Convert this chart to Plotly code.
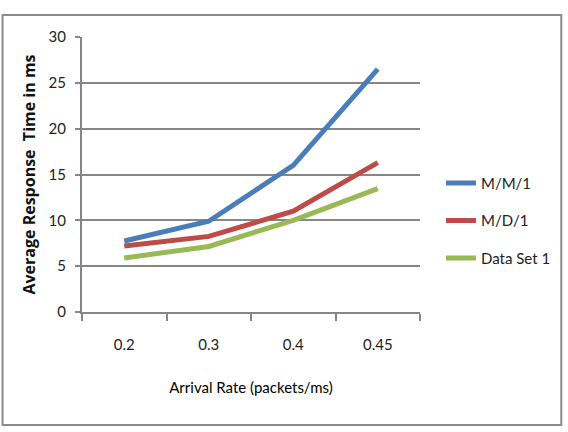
import plotly.graph_objects as go

categories = ["0.2", "0.3", "0.4", "0.45"]
mm1 = [7.75, 9.9, 16.0, 26.5]
md1 = [7.2, 8.25, 11.0, 16.3]
data_set_1 = [5.9, 7.15, 10.0, 13.45]
y_ticks = [0, 5, 10, 15, 20, 25, 30]

series = [("M/M/1", mm1, "#4A7EBB"), ("M/D/1", md1, "#BE4B48"), ("Data Set 1", data_set_1, "#98B954")]

FONT = "Lato, 'Open Sans', sans-serif"
fig = go.Figure()
for i, (name, vals, col) in enumerate(series):
    fig.add_trace(go.Scatter(x=categories, y=vals, name=name, mode="lines",
                             line=dict(color=col, width=5), legendgroup=f"g{i}"))

fig.update_layout(
    width=568, height=432,
    margin=dict(l=82, r=145.5, t=37, b=120),
    paper_bgcolor="white", plot_bgcolor="white",
    font=dict(family=FONT, size=13, color="#222"),
    showlegend=True,
    legend=dict(x=1.062, y=0.332, xanchor="left", yanchor="middle",
                tracegroupgap=15, font=dict(family=FONT, size=15, color="#222"),
                itemwidth=30, bgcolor="rgba(0,0,0,0)"),
    xaxis=dict(type="category", range=[-0.5, 3.5], showgrid=False, showline=True,
               linecolor="#868686", linewidth=2,
               ticks="outside", tickson="boundaries", ticklen=7, tickcolor="#868686", tickwidth=2,
               ticklabelstandoff=18,
               tickfont=dict(family=FONT, size=15, color="#222"),
               title=dict(text="Arrival Rate (packets/ms)", font=dict(family=FONT, size=15, color="#000"), standoff=30),
               zeroline=False),
    yaxis=dict(range=[0, 30], tickvals=y_ticks, showgrid=True, gridcolor="#868686", gridwidth=2,
               showline=True, linecolor="#868686", linewidth=2, ticks="outside", ticklen=5,
               tickcolor="#868686", tickwidth=2, zeroline=False, ticklabelstandoff=6,
               tickfont=dict(family=FONT, size=15, color="#222"),
               title=dict(text="<b>Average Response  Time in ms</b>", font=dict(family="'Open Sans', Lato, sans-serif", size=16, color="#111"), standoff=9)),
)
fig.add_shape(type="rect", xref="paper", yref="paper", x0=-0.235, x1=1.418, y0=-0.411, y1=1.08,
              line=dict(color="#8a8a8a", width=2), fillcolor="rgba(0,0,0,0)", layer="below")
fig.write_html("out.html")
